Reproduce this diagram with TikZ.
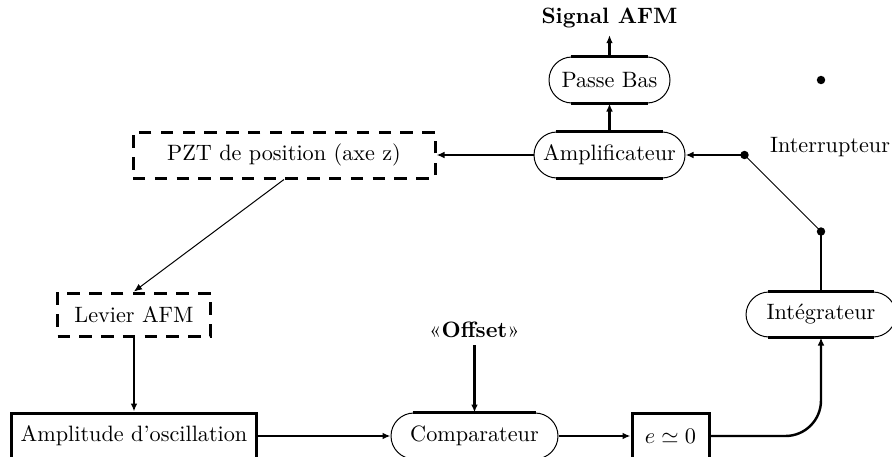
\documentclass[tikz,border=0pt]{standalone}
\usepackage{fontspec}
\usetikzlibrary{arrows.meta}
\begin{document}
\begin{tikzpicture}[x=0.45pt,y=-0.45pt,
  every node/.style={inner sep=0pt, font=\fontsize{10}{12}\selectfont},
  conn/.style={line width=1.1pt, -{Latex[length=3.6pt,width=3pt]}},
  thinconn/.style={line width=0.45pt, -{Latex[length=3.6pt,width=3pt]}},
  rbox/.style={draw, line width=0.45pt, rounded corners=10.35pt, minimum height=46*0.45pt},
  pbox/.style={draw, line width=1.35pt, minimum height=46*0.45pt},
  dbox/.style={draw, line width=1.35pt, dash pattern=on 5.6pt off 4.2pt, minimum height=45*0.45pt},
  thickedge/.style={line width=1.35pt},
  dot/.style={circle, fill=black, minimum size=3.8pt, inner sep=0pt}]
\useasboundingbox (0,0) rectangle (892,457);
\clip (0,0) rectangle (892,457);
% nodes
\node[font=\fontsize{10}{12}\selectfont\bfseries, inner sep=3pt] (sig) at (609.5,18) {Signal AFM};
\node[rbox, minimum width=121*0.45pt] (passe) at (609.5,80) {Passe Bas};
\node[rbox, minimum width=151*0.45pt] (ampli) at (609.5,155) {Amplificateur};
\node[dbox, minimum width=302*0.45pt, minimum height=46*0.45pt] (pzt) at (284,155) {PZT de position (axe z)};
\node[dbox, minimum width=153*0.45pt, minimum height=43*0.45pt] (lev) at (134,314.5) {Levier AFM};
\node[pbox, minimum width=245*0.45pt] (amp) at (134,436) {Amplitude d’oscillation};
\node[inner sep=3pt] (off) at (474.5,330) {«\textbf{Offset}»};
\node[rbox, minimum width=167*0.45pt] (comp) at (474.5,436) {Comparateur};
\node[pbox, minimum width=77*0.45pt] (eps) at (670.5,436) {$e\simeq 0$};
\node[rbox, minimum width=150*0.45pt, minimum height=45*0.45pt] (integ) at (821,314.5) {Intégrateur};
\node[dot] (sw1) at (744.5,155) {};
\node[dot] (sw2) at (821,231.5) {};
\node[dot] (lone) at (821,80) {};
\node (intr) at (830,147) {Interrupteur};
% thick straight edges of the rounded boxes
\foreach \n in {passe,ampli,comp,integ}{
  \draw[thickedge] ([xshift=10pt]\n.north west) -- ([xshift=-10pt]\n.north east);
  \draw[thickedge] ([xshift=10pt]\n.south west) -- ([xshift=-10pt]\n.south east);
}
% connectors
\draw[conn] (passe.north) -- (sig.south);
\draw[conn] (ampli.north) -- (passe.south);
\draw[conn] (ampli.west) -- (pzt.east);
\draw[conn] (sw1.center) -- (ampli.east);
\draw[line width=0.45pt] (sw1.center) -- (sw2.center);
\draw[line width=1.1pt] (sw2.center) -- (integ.north);
\draw[thinconn] (pzt.south) -- (lev.north);
\draw[conn] (lev.south) -- (amp.north);
\draw[conn] (amp.east) -- (comp.west);
\draw[conn] (off.south) -- (comp.north);
\draw[conn] (comp.east) -- (eps.west);
\draw[conn, rounded corners=16pt] (eps.east) -| (integ.south);
\end{tikzpicture}
\end{document}
